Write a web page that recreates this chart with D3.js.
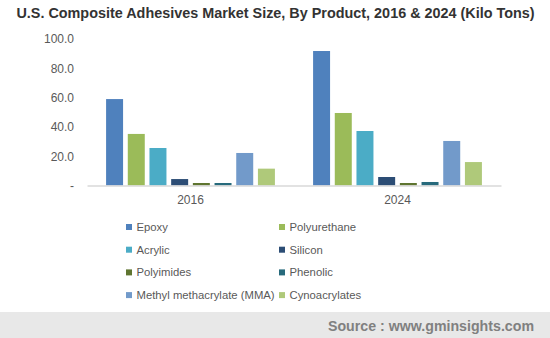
<!DOCTYPE html>
<html><head><meta charset="utf-8">
<script src="https://cdn.jsdelivr.net/npm/d3@7"></script>
<style>body{margin:0;background:#fff;}svg{display:block;}</style>
</head><body>
<svg id="c" width="550" height="338"></svg>
<script>
const years = ["2016", "2024"];
const products = ["Epoxy", "Polyurethane", "Acrylic", "Silicon", "Polyimides", "Phenolic", "Methyl methacrylate (MMA)", "Cynoacrylates"];
const values2016 = [59.0, 35.2, 25.6, 4.4, 1.7, 1.7, 22.2, 11.5];
const values2024 = [91.8, 49.5, 37.2, 5.8, 1.7, 2.4, 30.4, 16.0];
const colors = ["#4f81bd", "#9bbb59", "#4bacc6", "#2c4d75", "#5f7530", "#276a7c", "#729aca", "#afc97a"];
const yTicks = [0, 20, 40, 60, 80, 100];
const title = "U.S. Composite Adhesives Market Size, By Product, 2016 & 2024 (Kilo Tons)";
const source = "Source : www.gminsights.com";

const series = [values2016, values2024];
const svg = d3.select("#c");
const font = "'Liberation Sans', Arial, sans-serif";

svg.append("text").attr("x", 275.5).attr("y", 18).attr("text-anchor", "middle")
  .attr("font-family", font).attr("font-weight", "bold").attr("font-size", 14.4)
  .attr("fill", "#333").text(title);

const x0 = d3.scaleBand().domain(years).range([87, 501]);
const x1 = d3.scaleBand().domain(products).range([0, x0.bandwidth()]).paddingInner(0.217).paddingOuter(0.88);
const y = d3.scaleLinear().domain([0, 100]).range([185.5, 39]);

// y axis labels
const yAxis = d3.axisLeft(y).tickValues(yTicks).tickSize(0).tickPadding(0)
  .tickFormat(d => d === 0 ? "-" : d3.format(".1f")(d));
const ya = svg.append("g").attr("transform", "translate(74,0)").call(yAxis);
ya.select(".domain").remove();
ya.selectAll("text").attr("font-family", font).attr("font-size", 12).attr("fill", "#595959");

// bars
const groups = svg.append("g").selectAll("g").data(years).join("g")
  .attr("transform", d => `translate(${x0(d)},0)`);
groups.selectAll("rect").data((d, i) => series[i].map((v, j) => ({p: products[j], v, c: colors[j]})))
  .join("rect")
  .attr("x", d => x1(d.p)).attr("width", x1.bandwidth())
  .attr("y", d => y(d.v)).attr("height", d => y(0) - y(d.v))
  .attr("fill", d => d.c);

// x axis
const xAxis = d3.axisBottom(x0).tickSize(0).tickPadding(10);
const xa = svg.append("g").attr("transform", `translate(0,${y(0)})`).call(xAxis);
xa.select(".domain").attr("stroke", "#d9d9d9").attr("stroke-width", 1.5);
xa.selectAll("text").attr("font-family", font).attr("font-size", 12).attr("fill", "#595959");

// legend
const legend = svg.append("g");
products.forEach((p, i) => {
  const col = i % 2, row = Math.floor(i / 2);
  const lx = col === 0 ? 126 : 279;
  const ly = 227 + row * 22.7;
  legend.append("rect").attr("x", lx).attr("y", ly - 3).attr("width", 6).attr("height", 6).attr("fill", colors[i]);
  legend.append("text").attr("x", lx + 10.5).attr("y", ly).attr("dy", "0.35em")
    .attr("font-family", font).attr("font-size", 11.3).attr("fill", "#595959").text(p);
});

// source band
svg.append("rect").attr("x", 0).attr("y", 312).attr("width", 550).attr("height", 26).attr("fill", "#e8e8e8");
svg.append("text").attr("x", 534).attr("y", 326).attr("dy", "0.35em").attr("text-anchor", "end")
  .attr("font-family", font).attr("font-weight", "bold").attr("font-size", 14.2)
  .attr("fill", "#808080").text(source);
</script>
</body></html>
